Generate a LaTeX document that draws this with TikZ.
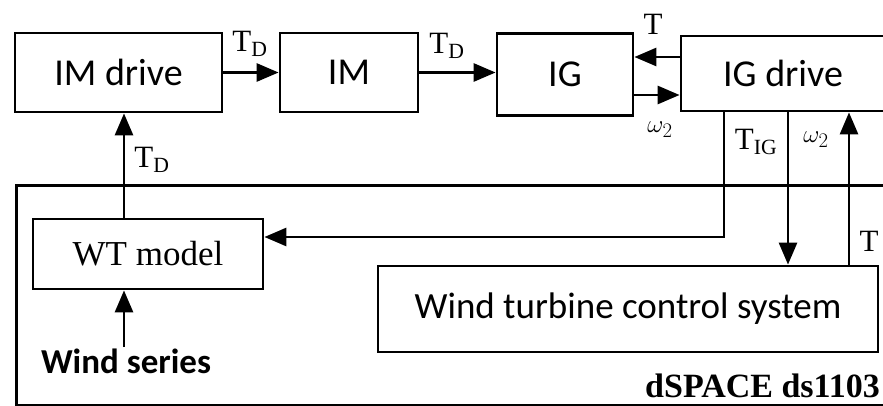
\documentclass[tikz,border=0pt]{standalone}
\usepackage{fontspec}
\setmainfont{Liberation Serif}
\newfontfamily\calib{Carlito}
\usetikzlibrary{arrows.meta,positioning}

\tikzset{
    blk/.style={draw, line width=2.8pt, font=\calib\fontsize{38}{40}\selectfont},
    sig/.style={line width=2.8pt, -{Triangle[length=22pt,width=18pt]}},
    lbl/.style={font=\fontsize{31}{33}\selectfont, inner sep=0pt},
}

\begin{document}
\begin{tikzpicture}[x=1pt,y=-1pt]
            \useasboundingbox (0,0) rectangle (883,406);
            % upper row
            \node[blk, minimum width=207pt, minimum height=79pt] (imdrive) at (118.5,72.5) {IM drive};
            \node[blk, minimum width=138pt, minimum height=79pt] (im) at (349,72.5) {IM};
            \node[blk, minimum width=136pt, minimum height=82pt] (ig) at (565,74.5) {IG};
            \node[blk, minimum width=222pt, minimum height=75pt] (igdrive) at (792,73.5) {IG drive\hspace*{18pt}};
            % dSPACE part
            \node[draw, line width=3pt, minimum width=890pt, minimum height=220pt, anchor=north west] (dspace) at (15,184) {};
            \node[blk, font=\fontsize{35}{37}\selectfont, minimum width=230pt, minimum height=70pt] (wt) at (148,254) {WT model};
            \node[blk, font=\calib\fontsize{37}{39}\selectfont, minimum width=500pt, minimum height=86pt] (wtcs) at (628,309) {Wind turbine control system};
            \node[font=\calib\bfseries\fontsize{35}{37}\selectfont, inner sep=2pt, anchor=north] (wind) at (126,347) {Wind series};
            \node[font=\bfseries\fontsize{34}{36}\selectfont, inner sep=0pt, anchor=base east] (dslabel) at (880,397) {dSPACE ds1103};
            \coordinate (wtx) at (124,0);
            \coordinate (tigx) at (724,0);
            \coordinate (wx) at (788,0);
            \coordinate (tx) at (849,0);
            % signals
            \draw[sig] (imdrive.east) -- (im.west);
            \draw[sig] (im.east) -- (im.east -| ig.west);
            \draw[sig] ([yshift=16.5pt]igdrive.west) -- ([yshift=16.5pt]igdrive.west -| ig.east);
            \draw[sig] ([yshift=-21.5pt]ig.east |- igdrive.west) -- ([yshift=-21.5pt]igdrive.west);
            \draw[sig] (igdrive.south -| tigx) |- ([yshift=17pt]wt.east);
            \draw[sig] (igdrive.south -| wx) -- (wtcs.north -| wx);
            \draw[sig] (wtcs.north -| tx) -- (igdrive.south -| tx);
            \draw[sig] (wt.north -| wtx) -- (imdrive.south -| wtx);
            \draw[sig] (wind.north -| wtx) -- (wt.south -| wtx);
            % labels
            \node[lbl] (tdA) at (250,44) {T\textsubscript{D}};
            \node[lbl] (tdB) at (447,46) {T\textsubscript{D}};
            \node[lbl] (tA) at (653,24) {T};
            \node[lbl] (wA) at (660,130) {$\omega_2$};
            \node[lbl] (tig) at (756,142) {T\textsubscript{IG}};
            \node[lbl] (wB) at (816,140) {$\omega_2$};
            \node[lbl] (tB) at (869,241) {T};
            \node[lbl] (tdC) at (152,160) {T\textsubscript{D}};
\end{tikzpicture}
\end{document}
